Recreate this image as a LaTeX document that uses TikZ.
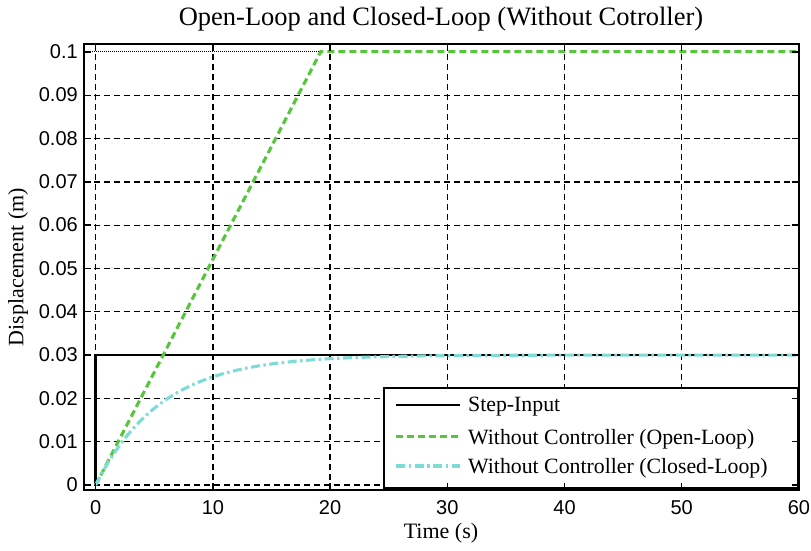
\documentclass[tikz,border=0pt]{standalone}
\usepackage{fontspec}
\setmainfont{Liberation Serif}
\newfontfamily\ticksfont{Liberation Sans}
\definecolor{olgreen}{RGB}{88,198,60}
\definecolor{clcyan}{RGB}{126,220,214}
\tikzset{
  gridline/.style={black, line width=1.3pt, dash pattern=on 6pt off 4pt},
  stepline/.style={black, line width=2.9pt},
  openline/.style={olgreen, line width=3.1pt, dash pattern=on 7pt off 4pt},
  closedline/.style={clcyan, line width=3.1pt, dash pattern=on 9pt off 3.5pt on 2.5pt off 3.5pt},
  ticklabel/.style={font=\ticksfont\fontsize{20}{22}\selectfont, inner sep=0pt},
  axislabel/.style={font=\fontsize{22}{24}\selectfont, inner sep=0pt},
  legtext/.style={font=\fontsize{21.8}{24}\selectfont, inner sep=0pt, anchor=west},
  tickmark/.style={black, line width=1.4pt}
}
\begin{document}
\begin{tikzpicture}[x=1pt,y=-1pt]
\useasboundingbox[fill=white] (0,0) rectangle (811,550);

% data area: t in [-1,60], displacement in [-0.00115,0.1017]
\begin{scope}[shift={(95.7,485)}, x=11.72pt, y=4333pt]
  % grid
  \foreach \t in {0,10,...,50}
    \draw[gridline] (\t,-0.00115) -- (\t,0.1017);
  \foreach \v in {0,0.01,...,0.091}
    \draw[gridline] (-1,\v) -- (60,\v);
  \draw[black, line width=1pt, densely dotted] (-1,0.1) -- (19.2,0.1);

  % responses
  \draw[stepline] (0,0) -- (0,0.03) -- (60,0.03);
  \draw[openline] (0,0) -- (19.2,0.1) -- (60,0.1);
  \draw[closedline] plot[domain=0:60, samples=150, smooth] (\x,{0.03*(1-exp(-\x/5.6))});

  % axes box corners
  \coordinate (bl) at (-1,-0.00115);
  \coordinate (tr) at (60,0.1017);
\end{scope}

% legend
\node[draw=black, line width=1.8pt, fill=white, minimum width=414pt, minimum height=100pt, inner sep=0pt, anchor=north west] (legend) at (383,387) {};
\coordinate (l1) at (396,405);
\coordinate (l2) at (396,436.5);
\coordinate (l3) at (396,466);
\draw[stepline, line width=2.6pt] (l1) -- ++(64,0);
\draw[openline] (l2) -- ++(64,0);
\draw[closedline] (l3) -- ++(64,0);
\node[legtext] (t1) at (468,407) {Step-Input};
\node[legtext] (t2) at (468,439) {Without Controller (Open-Loop)};
\node[legtext] (t3) at (468,468.5) {Without Controller (Closed-Loop)};

\begin{scope}[shift={(95.7,485)}, x=11.72pt, y=4333pt]
  \draw[black, line width=2pt] (bl) rectangle (tr);
  \foreach \t in {0,10,...,50} {
    \draw[tickmark] (\t,-0.00115) -- ++(0,7pt);
    \draw[tickmark] (\t,0.1017) -- ++(0,-7pt);
  }
  \foreach \v in {0,0.01,...,0.101} {
    \draw[tickmark] (-1,\v) -- ++(7pt,0);
    \draw[tickmark] (60,\v) -- ++(-7pt,0);
  }
  \foreach \t in {0,10,...,60}
    \node[ticklabel, anchor=north] (xt\t) at (\t,-0.00115) [yshift=-10pt] {\t};
  \foreach \v/\lab in {0/0,0.01/0.01,0.02/0.02,0.03/0.03,0.04/0.04,0.05/0.05,0.06/0.06,0.07/0.07,0.08/0.08,0.09/0.09,0.1/0.1}
    \node[ticklabel, anchor=east] at (-1,\v) [xshift=-6pt] {\lab};
\end{scope}

% titles
\node[font=\fontsize{26.5}{28}\selectfont, inner sep=0pt] (title) at (441,19) {Open-Loop and Closed-Loop (Without Cotroller)};
\node[axislabel] (xlabel) at (441,533) {Time (s)};
\node[axislabel, rotate=90] (ylabel) at (18,267) {Displacement (m)};
\end{tikzpicture}
\end{document}
